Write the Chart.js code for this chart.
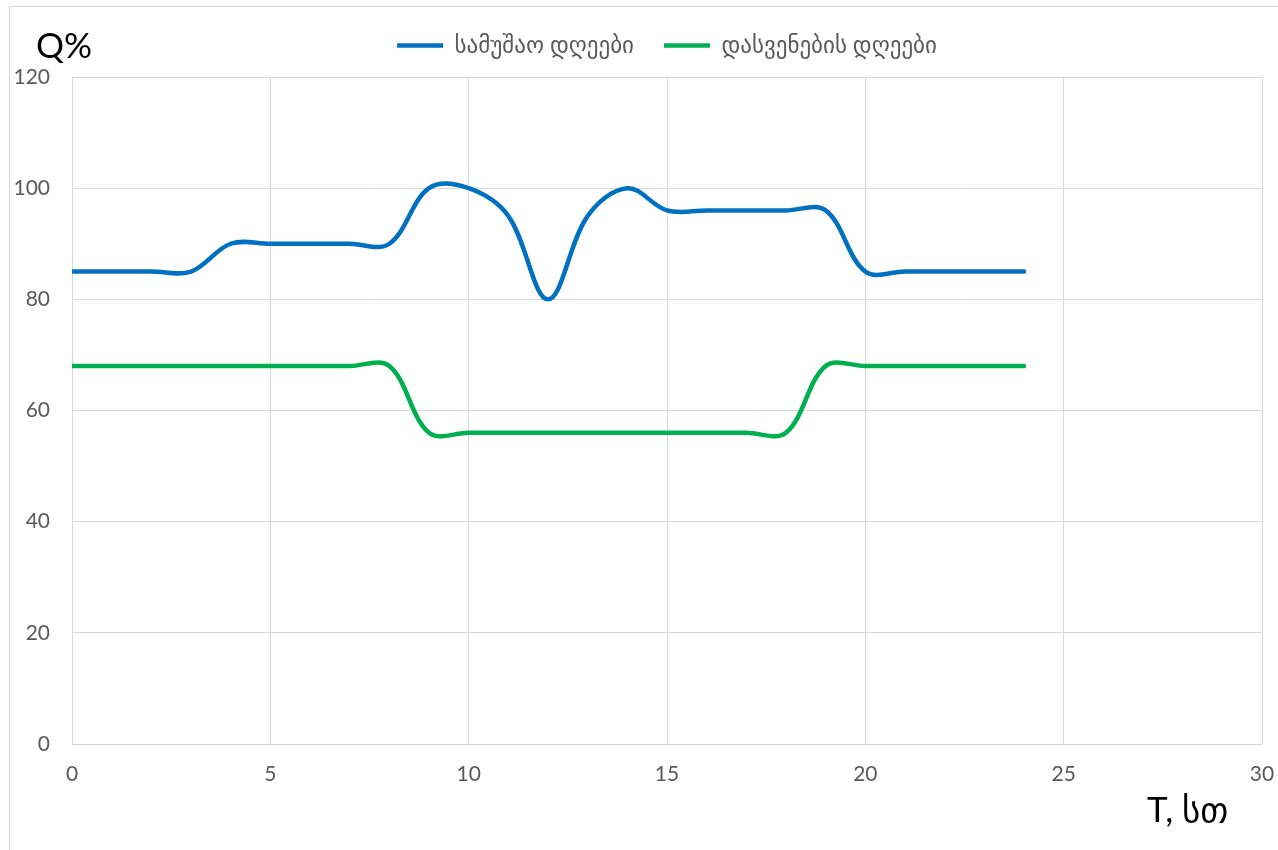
<!DOCTYPE html>
<html>
<head>
<meta charset="utf-8">
<script src="https://cdn.jsdelivr.net/npm/chart.js@4/dist/chart.umd.min.js"></script>
<style>
  html, body { margin: 0; padding: 0; background: #ffffff; overflow: hidden; }
  #wrap { position: relative; width: 1278px; height: 850px; }
</style>
</head>
<body>
<div id="wrap"><canvas id="chart" width="1278" height="850"></canvas></div>
<script>
// Hourly load profile, Q% by hour of day
const hours = [0, 1, 2, 3, 4, 5, 6, 7, 8, 9, 10, 11, 12, 13, 14, 15, 16, 17, 18, 19, 20, 21, 22, 23, 24];
const workDays = [85, 85, 85, 85, 90, 90, 90, 90, 90, 100, 100, 95, 80, 95, 100, 96, 96, 96, 96, 96, 85, 85, 85, 85, 85];
const restDays = [68, 68, 68, 68, 68, 68, 68, 68, 68, 56, 56, 56, 56, 56, 56, 56, 56, 56, 56, 68, 68, 68, 68, 68, 68];
const seriesNames = ['სამუშაო დღეები', 'დასვენების დღეები'];
const seriesColors = ['#0070C0', '#00B050'];
const xRange = { min: 0, max: 30, step: 5 };
const yRange = { min: 0, max: 120, step: 20 };
const yTitle = 'Q%';
const xTitle = 'T, სთ';

const FONT = 'Lato, "DejaVu Sans", sans-serif';
const GRID = '#d9d9d9';
const TICK = '#595959';

const toPoints = (vals) => hours.map((h, i) => ({ x: h, y: vals[i] }));

function lineSet(label, vals, color) {
  return {
    label,
    data: toPoints(vals),
    borderColor: color,
    backgroundColor: color,
    borderWidth: 4.5,
    borderCapStyle: 'round',
    borderJoinStyle: 'round',
    pointRadius: 0,
    pointHoverRadius: 0,
    pointStyle: 'line',
    tension: 0.36,
    fill: false
  };
}

// Outer frame and the two axis captions
const decor = {
  id: 'decor',
  beforeDraw(chart) {
    const ctx = chart.ctx;
    ctx.save();
    ctx.strokeStyle = GRID;
    ctx.lineWidth = 1;
    ctx.strokeRect(9.5, 6.5, 1400, 1000);
    ctx.restore();
  },
  afterDraw(chart) {
    const ctx = chart.ctx;
    ctx.save();
    ctx.fillStyle = '#000000';
    ctx.textBaseline = 'alphabetic';
    ctx.textAlign = 'left';
    ctx.font = '35px ' + FONT;
    ctx.fillText(yTitle, 36, 58);
    ctx.fillText(xTitle, 1147, 822);
    ctx.restore();
  }
};

new Chart(document.getElementById('chart'), {
  type: 'line',
  data: {
    datasets: [
      lineSet(seriesNames[0], workDays, seriesColors[0]),
      lineSet(seriesNames[1], restDays, seriesColors[1])
    ]
  },
  options: {
    responsive: false,
    animation: false,
    devicePixelRatio: 1,
    layout: { padding: { top: 4, right: 16, bottom: 0, left: 0 } },
    plugins: {
      tooltip: { enabled: false },
      legend: {
        position: 'top',
        fullSize: false,
        labels: {
          usePointStyle: true,
          pointStyleWidth: 46,
          padding: 30,
          color: TICK,
          font: { family: FONT, size: 23 }
        }
      },
      subtitle: {
        display: true,
        text: '',
        weight: 500,
        padding: 0,
        font: { size: 10, lineHeight: 1 }
      }
    },
    scales: {
      x: {
        type: 'linear',
        min: xRange.min,
        max: xRange.max,
        afterFit(scale) {
          scale.height = 106;
          scale.paddingLeft = 0;
          scale.paddingRight = 0;
        },
        ticks: {
          stepSize: xRange.step,
          padding: 18,
          color: TICK,
          font: { family: FONT, size: 21 }
        },
        grid: { color: GRID, lineWidth: 1, drawTicks: false },
        border: { color: GRID }
      },
      y: {
        min: yRange.min,
        max: yRange.max,
        afterFit(scale) { scale.width = 72; },
        ticks: {
          stepSize: yRange.step,
          padding: 22,
          color: TICK,
          font: { family: FONT, size: 21 }
        },
        grid: { color: GRID, lineWidth: 1, drawTicks: false },
        border: { color: GRID }
      }
    }
  },
  plugins: [decor]
});
</script>
</body>
</html>
